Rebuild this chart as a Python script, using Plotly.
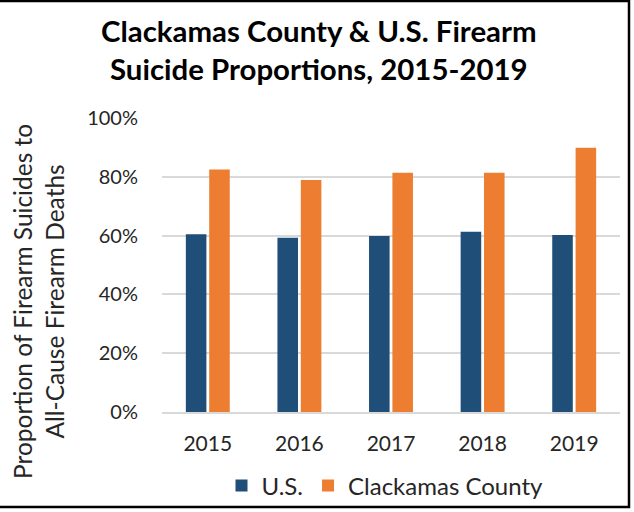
import plotly.graph_objects as go

# Data
years = ["2015", "2016", "2017", "2018", "2019"]
us_share = [0.605, 0.593, 0.599, 0.613, 0.602]
clackamas_share = [0.825, 0.789, 0.814, 0.814, 0.899]
y_ticks = [0, 0.2, 0.4, 0.6, 0.8, 1.0]

W, H = 634, 512
ml, mr, mt, mb = 162, 14, 118, 100
pw, ph = W - ml - mr, H - mt - mb


def px_x(x):
    return (x - ml) / pw


def px_y(y):
    return (H - mb - y) / ph


font = "Lato"
text_color = "#262626"

fig = go.Figure()
fig.add_trace(go.Bar(x=years, y=us_share, name="U.S.",
                     marker=dict(color="#1F4E79", line=dict(width=0))))
fig.add_trace(go.Bar(x=years, y=clackamas_share, name="Clackamas County",
                     marker=dict(color="#ED7D31", line=dict(width=0))))

fig.update_layout(
    width=W, height=H,
    margin=dict(l=ml, r=mr, t=mt, b=mb, autoexpand=False),
    paper_bgcolor="white", plot_bgcolor="white",
    barmode="group", bargap=0.49, bargroupgap=0.12,
    font=dict(family=font, size=20, color=text_color),
    showlegend=True,
    legend=dict(orientation="h", x=px_x(385), xanchor="center",
                y=px_y(486), yanchor="middle", bgcolor="rgba(0,0,0,0)",
                font=dict(family=font, size=24, color=text_color),
                itemwidth=30, traceorder="normal"),
)

fig.update_yaxes(range=[0, 1.0], tickvals=y_ticks, tickformat=".0%",
                 showgrid=True, gridcolor="#D9D9D9", gridwidth=1.5,
                 zeroline=False, showline=False, ticks="",
                 ticklabelstandoff=23,
                 tickfont=dict(size=20, color=text_color))
fig.update_xaxes(showline=True, linecolor="#D9D9D9", linewidth=1.5,
                 ticks="", ticklabelstandoff=12,
                 tickfont=dict(size=21, color=text_color))

# Title (two lines, bold)
fig.add_annotation(text="<b>Clackamas County & U.S. Firearm<br>Suicide Proportions, 2015-2019</b>",
                   xref="paper", yref="paper", x=px_x(319), y=px_y(50),
                   xanchor="center", yanchor="middle", showarrow=False,
                   font=dict(family=font, size=29.4, color="black"))

# Y axis title (two lines, centred on the chart area like Excel)
fig.add_annotation(text="Proportion of Firearm Suicides to<br>All-Cause Firearm Deaths",
                   xref="paper", yref="paper", x=px_x(38), y=px_y(302),
                   xanchor="center", yanchor="middle", textangle=-90,
                   showarrow=False, font=dict(family=font, size=24.5, color=text_color))

# Chart border
fig.add_shape(type="rect", xref="paper", yref="paper",
              x0=px_x(-3), x1=px_x(629), y0=px_y(507), y1=px_y(1),
              line=dict(color="black", width=2.5), fillcolor="rgba(0,0,0,0)",
              layer="above")

fig.write_html("out.html", config={"displayModeBar": False},
               post_script="document.body.style.margin='0';")
